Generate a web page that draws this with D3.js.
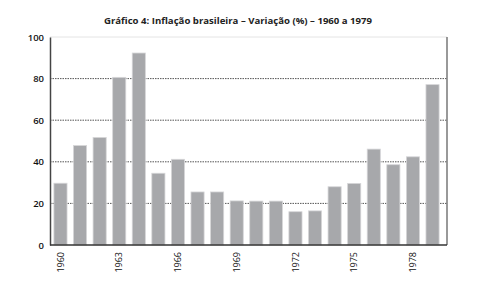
<!DOCTYPE html>
<html>
<head>
<meta charset="utf-8">
<script src="https://cdn.jsdelivr.net/npm/d3@7"></script>
<style>
  body { margin: 0; background: #fff; }
  text { font-family: "Open Sans", sans-serif; }
</style>
</head>
<body>
<div id="chart"></div>
<script>
// Data
const years = d3.range(1960, 1980).map(String);
const inflation = [29.7, 47.8, 51.7, 80.6, 92.3, 34.5, 41.2, 25.5, 25.5, 21.2,
                   21.1, 21.1, 16.0, 16.4, 28.0, 29.6, 46.1, 38.6, 42.4, 77.1];
const yTicks = [0, 20, 40, 60, 80, 100];
const xLabels = ["1960", "1963", "1966", "1969", "1972", "1975", "1978"];
const title = "Gráfico 4: Inflação brasileira – Variação (%) – 1960 a 1979";

const width = 488, height = 284;
const margin = { top: 37, right: 41, bottom: 39, left: 50 };

const svg = d3.select("#chart").append("svg")
  .attr("width", width)
  .attr("height", height);

const xScale = d3.scaleBand()
  .domain(years)
  .range([margin.left, width - margin.right - 4])
  .paddingInner(0.33)
  .paddingOuter(0.2);

const yScale = d3.scaleLinear()
  .domain([0, 100])
  .range([height - margin.bottom, margin.top]);

// title
svg.append("text")
  .attr("x", 238)
  .attr("y", 24)
  .attr("text-anchor", "middle")
  .attr("font-size", 9.6)
  .attr("font-weight", "bold")
  .attr("fill", "#222")
  .text(title);

// faint top border
svg.append("line")
  .attr("x1", margin.left)
  .attr("x2", width - margin.right)
  .attr("y1", yScale(100))
  .attr("y2", yScale(100))
  .attr("stroke", "#e4e4e4")
  .attr("stroke-width", 1);

// dotted grid
svg.selectAll("line.grid")
  .data(yTicks.filter(d => d > 0 && d < 100))
  .join("line")
  .attr("class", "grid")
  .attr("x1", margin.left)
  .attr("x2", width - margin.right)
  .attr("y1", d => yScale(d))
  .attr("y2", d => yScale(d))
  .attr("stroke", "#555")
  .attr("stroke-width", 1)
  .attr("stroke-dasharray", "1.5,1");

// bars
svg.selectAll("rect.bar")
  .data(inflation)
  .join("rect")
  .attr("class", "bar")
  .attr("x", (d, i) => xScale(years[i]))
  .attr("y", d => yScale(d))
  .attr("width", xScale.bandwidth())
  .attr("height", d => yScale(0) - yScale(d))
  .attr("fill", "#a7a8ab")
  .attr("stroke", "#d6d6d8")
  .attr("stroke-width", 0.8);

// y axis
const yAxis = d3.axisLeft(yScale).tickValues(yTicks).tickSize(0).tickPadding(6);
const yAxisGroup = svg.append("g")
  .attr("transform", `translate(${margin.left},0)`)
  .call(yAxis);
yAxisGroup.select(".domain").attr("stroke", "#444").attr("stroke-width", 1.5);
yAxisGroup.selectAll("text")
  .attr("font-size", 9.5)
  .attr("font-weight", 600)
  .attr("fill", "#111")
  .style("font-family", "'Open Sans', sans-serif");

// right border
svg.append("line")
  .attr("x1", width - margin.right)
  .attr("x2", width - margin.right)
  .attr("y1", yScale(100))
  .attr("y2", yScale(0))
  .attr("stroke", "#777")
  .attr("stroke-width", 1.5);

// x axis
const xAxis = d3.axisBottom(xScale).tickValues(xLabels).tickSize(0).tickPadding(0);
const xAxisGroup = svg.append("g")
  .attr("transform", `translate(0,${yScale(0)})`)
  .call(xAxis);
xAxisGroup.select(".domain")
  .attr("d", `M${margin.left},0H${width - margin.right}`)
  .attr("stroke", "#333")
  .attr("stroke-width", 1.5);
xAxisGroup.selectAll("text")
  .attr("transform", "rotate(-90)")
  .attr("x", -7)
  .attr("y", 0)
  .attr("dy", "0.35em")
  .attr("text-anchor", "end")
  .attr("font-size", 9)
  .attr("fill", "#111")
  .style("font-family", "'Open Sans', sans-serif");
</script>
</body>
</html>
